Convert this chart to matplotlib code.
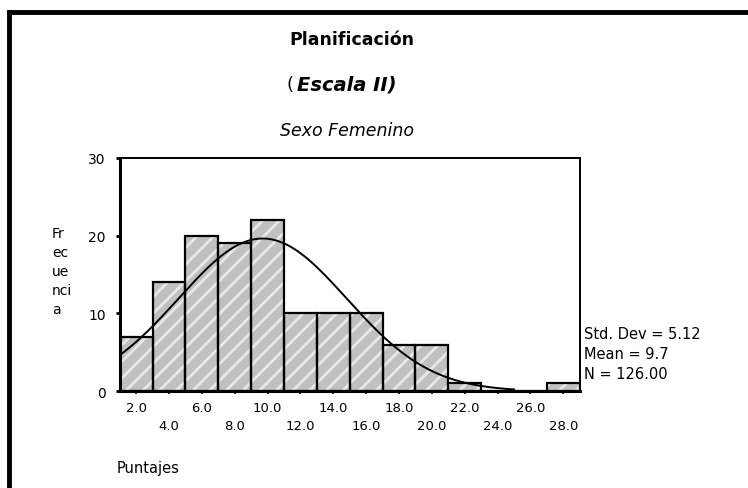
import numpy as np
import matplotlib.pyplot as plt
from matplotlib.lines import Line2D

plt.rcParams['font.family'] = ['DejaVu Sans']
plt.rcParams['hatch.linewidth'] = 2.0

# Histogram data (Puntajes, Sexo Femenino)
bin_centers = [2, 4, 6, 8, 10, 12, 14, 16, 18, 20, 22, 24, 26, 28]
counts = [7, 14, 20, 19, 22, 10, 10, 10, 6, 6, 1, 0, 0, 1]
bin_width = 2
std_dev = 5.12
mean = 9.7
n_total = 126

tick_labels_top = ['2.0', '6.0', '10.0', '14.0', '18.0', '22.0', '26.0']
tick_labels_bottom = ['4.0', '8.0', '12.0', '16.0', '20.0', '24.0', '28.0']

fig = plt.figure(figsize=(7.48, 4.89), dpi=100)
ax = fig.add_axes([0.160, 0.198, 0.615, 0.477])

# hatched grey fill, then black outlines
ax.bar(bin_centers, counts, width=bin_width, color='#c0c0c0', edgecolor='#e8e8e8',
       hatch='//', linewidth=0, zorder=2)
ax.bar(bin_centers, counts, width=bin_width, fill=False, edgecolor='black',
       linewidth=1.6, zorder=3)

# normal curve
xs = np.linspace(1, 25, 300)
ys = n_total * bin_width / (std_dev * np.sqrt(2 * np.pi)) * np.exp(-0.5 * ((xs - mean) / std_dev) ** 2)
ax.plot(xs, ys, color='black', linewidth=1.4, zorder=4)

ax.set_xlim(1, 29)
ax.set_ylim(0, 30)
ax.set_yticks([0, 10, 20, 30])
ax.set_yticklabels(['0', '10', '20', '30'], fontsize=10)
ax.set_xticks(bin_centers)
ax.set_xticklabels([])
ax.tick_params(axis='y', direction='out', length=3, width=2, pad=7)
ax.tick_params(axis='x', direction='out', length=2, width=1.2)
for s in ['left', 'bottom']:
    ax.spines[s].set_linewidth(2.2)
for s in ['top', 'right']:
    ax.spines[s].set_linewidth(1.4)

# two-row x labels
for i, lab in enumerate(tick_labels_top):
    ax.text(bin_centers[2 * i], -1.2, lab, ha='center', va='top', fontsize=9.5)
for i, lab in enumerate(tick_labels_bottom):
    ax.text(bin_centers[2 * i + 1], -3.6, lab, ha='center', va='top', fontsize=9.5)

# titles
fig.text(0.470, 0.918, 'Planificación', ha='center', va='center', fontsize=12.5, fontweight='bold')
fig.text(0.388, 0.826, '(', ha='center', va='center', fontsize=13)
fig.text(0.397, 0.826, 'Escala II)', ha='left', va='center', fontsize=14,
         fontweight='bold', style='italic')
fig.text(0.464, 0.732, 'Sexo Femenino', ha='center', va='center', fontsize=12.5, style='italic')

# y label
fig.text(0.0695, 0.444, 'Fr\nec\nue\nnci\na', ha='left', va='center', fontsize=10, linespacing=1.44)

# x label
fig.text(0.156, 0.041, 'Puntajes', ha='left', va='center', fontsize=10.5)

# stats
fig.text(0.781, 0.316, 'Std. Dev = 5.12', ha='left', va='center', fontsize=10.5)
fig.text(0.781, 0.275, 'Mean = 9.7', ha='left', va='center', fontsize=10.5)
fig.text(0.781, 0.234, 'N = 126.00', ha='left', va='center', fontsize=10.5)

# outer frame (top and left)
fig.add_artist(Line2D([0.0115, 1.0], [0.973, 0.973], color='black', linewidth=3.5))
fig.add_artist(Line2D([0.0115, 0.0115], [0.0, 0.973], color='black', linewidth=3.5))

fig.savefig('out.png', dpi=100)
